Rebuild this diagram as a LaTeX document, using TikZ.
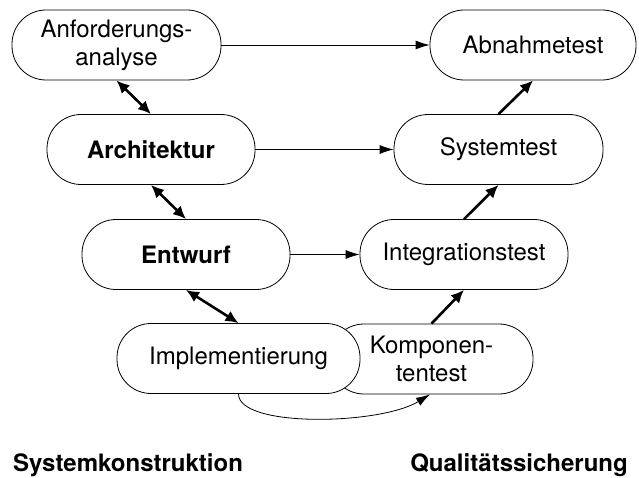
\documentclass[tikz,border=0pt]{standalone}
\usepackage{fontspec}
\setmainfont{TeX Gyre Heros}
\usetikzlibrary{arrows.meta}
\begin{document}
\begin{tikzpicture}[x=1pt,y=-1pt,
  box/.style={draw, line width=0.8pt, fill=white, rounded corners=34pt,
    minimum height=70pt, inner sep=0pt, align=center,
    font=\fontsize{24}{28}\selectfont},
  thinarrow/.style={line width=0.8pt, -{Latex[length=14pt,width=9pt]}},
  dblarrow/.style={line width=2.6pt, {Latex[length=13pt,width=12pt]}-{Latex[length=13pt,width=12pt]}},
  uparrow/.style={line width=2.6pt, -{Latex[length=13pt,width=12pt]}},
  lbl/.style={font=\fontsize{24}{28}\selectfont\bfseries, inner sep=0pt}]
\useasboundingbox (0,0) rectangle (639,478);

\node[box, minimum width=209pt] (anf) at (116.5,45) {Anforderungs-\\analyse};
\node[box, minimum width=208pt] (arch) at (151,149.5) {\bfseries Architektur};
\node[box, minimum width=208pt] (entw) at (186,254.5) {\bfseries Entwurf};
\node[box, minimum width=203pt] (komp) at (431.5,359) {Komponen-\\tentest};
\node[box, minimum width=243pt] (impl) at (238.5,358.5) {Implementierung};
\node[box, minimum width=206pt] (abn) at (533,45) {Abnahmetest};
\node[box, minimum width=209pt] (sys) at (498.5,149.5) {Systemtest};
\node[box, minimum width=208pt] (integ) at (464,254.5) {Integrationstest};

\draw[thinarrow] (anf.east) -- (abn.west);
\draw[thinarrow] (arch.east) -- (sys.west);
\draw[thinarrow] (entw.east) -- (integ.west);

\draw[dblarrow] (anf.south) -- (arch.north);
\draw[dblarrow] (arch.south) -- (entw.north);
\draw[dblarrow] (entw.south) -- (impl.north);

\draw[uparrow] (komp.north) -- (integ.south);
\draw[uparrow] (integ.north) -- (sys.south);
\draw[uparrow] (sys.north) -- (abn.south);

\draw[thinarrow] (impl.south) .. controls (238.5,428) and (380,425) .. ([xshift=-1.5pt]komp.south);

\node[lbl, anchor=base west] (sk) at (13,471) {Systemkonstruktion};
\node[lbl, anchor=base east] (qs) at (628,471) {Qualitätssicherung};
\end{tikzpicture}
\end{document}
